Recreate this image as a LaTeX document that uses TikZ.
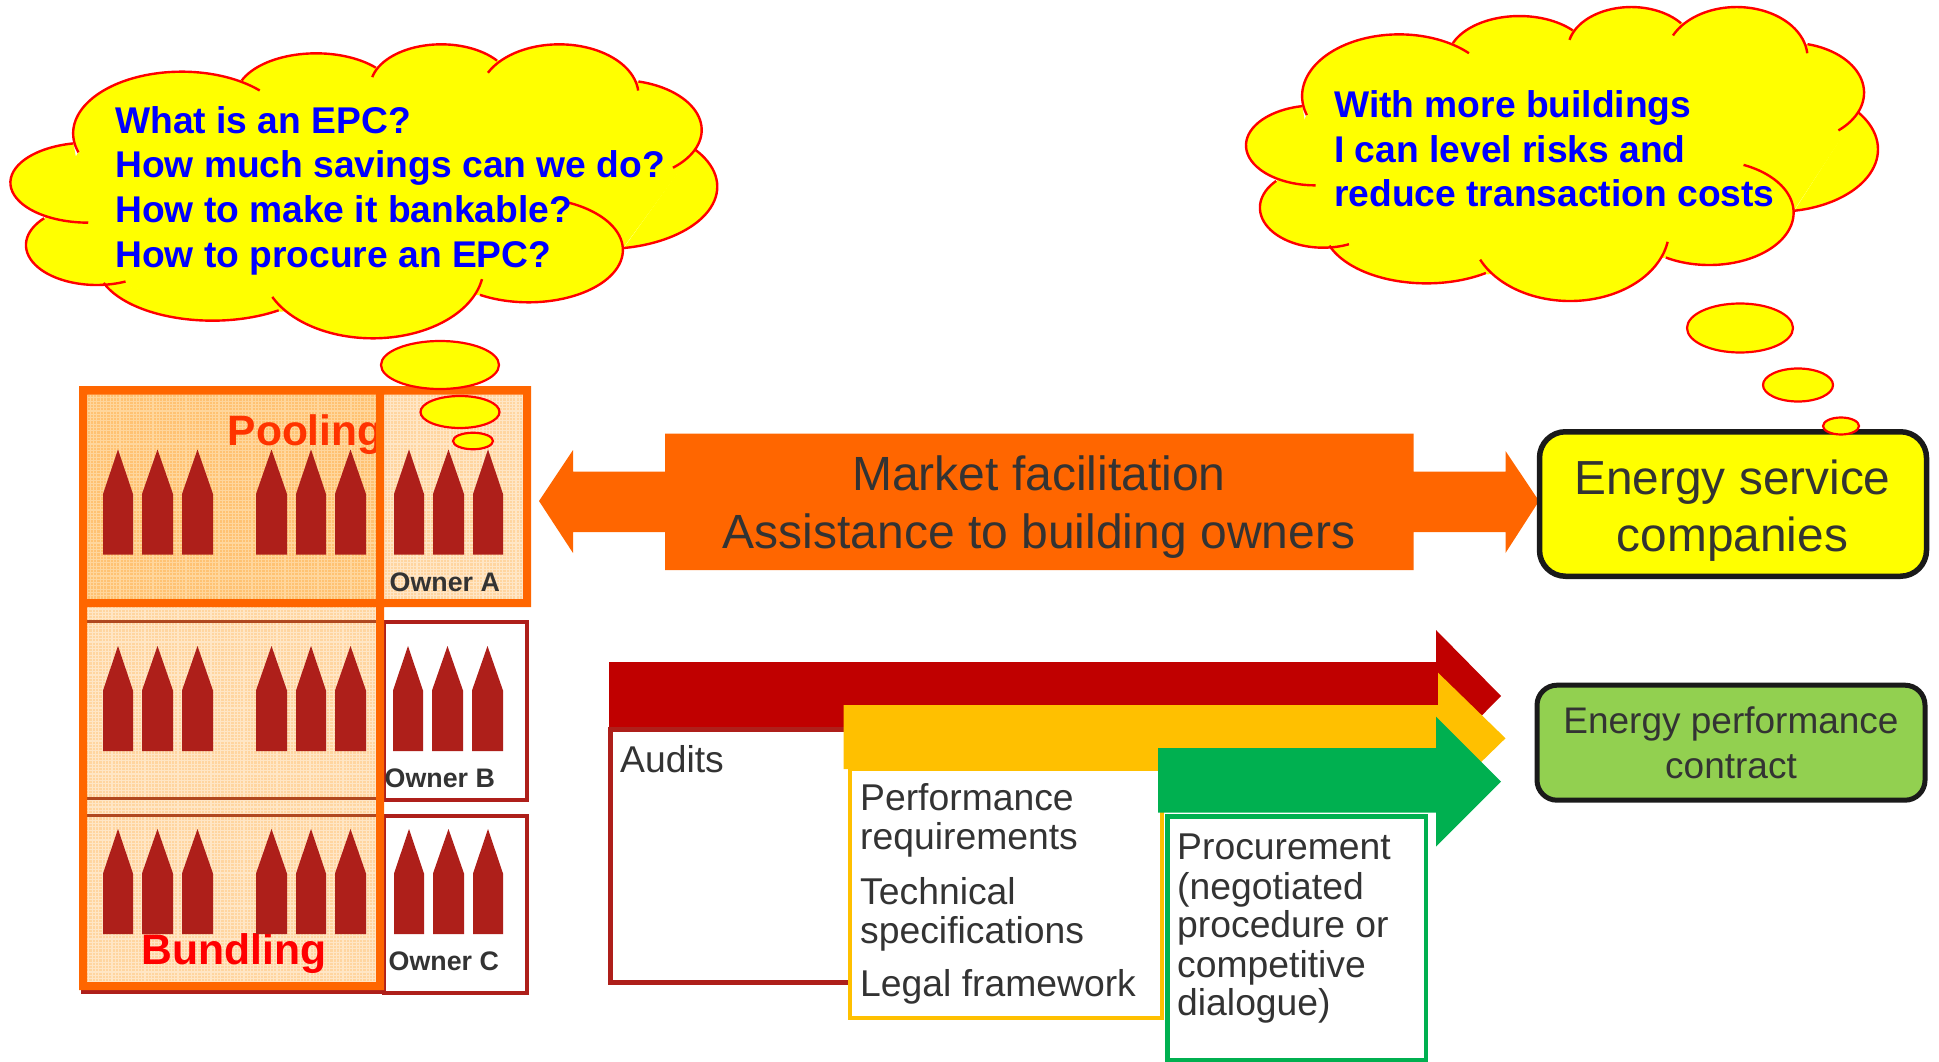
\documentclass[tikz,border=0pt]{standalone}
\usepackage{fontspec}
\setmainfont{Liberation Sans}
\definecolor{cloudfill}{HTML}{FFFF00}
\definecolor{cloudline}{HTML}{FF0000}
\definecolor{qblue}{HTML}{0000FF}
\definecolor{dark}{HTML}{333333}
\definecolor{boxline}{HTML}{1A1A1A}
\definecolor{frameorange}{HTML}{FF6600}
\definecolor{brick}{HTML}{AE1F1A}
\definecolor{brickdim}{HTML}{B04820}
\definecolor{arrowred}{HTML}{C00000}
\definecolor{arrowyellow}{HTML}{FFC000}
\definecolor{arrowgreen}{HTML}{00B050}
\definecolor{epcgreen}{HTML}{92D050}
\definecolor{palebase}{HTML}{FFD5A0}
\definecolor{paleline}{HTML}{FFE6C6}
\definecolor{warmbase}{HTML}{FFC272}
\definecolor{warmline}{HTML}{FFD69C}
\definecolor{poolred}{HTML}{FF3300}
\newcommand\fsz[1]{\fontsize{#1}{#1}\selectfont}
% one lobe of a cloud: style, centre x, centre y, x radius, y radius, from angle, to angle
\newcommand\lobe[7]{\path[#1] plot[smooth,samples=36,domain=#6:#7] ({#2+#4*cos(\x)},{#3+#5*sin(\x)});}
\newcommand\cloudlobes[1]{%
\lobe{#1}{385}{400}{230}{185}{162}{316}
\lobe{#1}{670}{290}{170}{130}{202}{318}
\lobe{#1}{935}{260}{150}{127}{193}{322}
\lobe{#1}{1185}{285}{168}{152}{206}{355}
\lobe{#1}{1310}{390}{177}{150}{284}{409}
\lobe{#1}{1280}{560}{240}{187}{-37}{80}
\lobe{#1}{1120}{750}{200}{157}{-66}{121}
\lobe{#1}{790}{800}{235}{215}{10}{155}
\lobe{#1}{450}{790}{245}{172}{55}{160}
\lobe{#1}{205}{735}{150}{120}{66}{222}
\lobe{#1}{187}{548}{165}{120}{90}{259}
}
\newcommand\cloudbody{%
\fill[cloudfill] (165,458)--(510,240)--(800,200)--(1058,180)--(1353,245)--(1475,445)--(1320,745)--(1015,885)--(595,935)--(220,850)--(95,655)--cycle;
\cloudlobes{fill=cloudfill}
\cloudlobes{draw=cloudline,line width=2.4pt}
}
\newcommand\bldg[5]{\fill[brick] (#1,#5)--(#1,#4)--({(#1+#2)/2},#3)--(#2,#4)--(#2,#5)--cycle;}
\newcommand\bldgrow[1]{%
\bldg{103}{133}{#1}{#1+44.5}{#1+105}\bldg{142}{173}{#1}{#1+44.5}{#1+105}\bldg{182}{213}{#1}{#1+44.5}{#1+105}%
\bldg{256}{287}{#1}{#1+44.5}{#1+105}\bldg{296}{326}{#1}{#1+44.5}{#1+105}\bldg{335}{366}{#1}{#1+44.5}{#1+105}%
}
\newcommand\texture[6]{\begin{scope}
\clip (#1,#2) rectangle (#3,#4);
\fill[#5] (#1,#2) rectangle (#3,#4);
\pgfmathtruncatemacro\nx{(#3-#1)/3.3}
\pgfmathtruncatemacro\ny{(#4-#2)/3.3}
\foreach \gi in {0,...,\nx} \draw[#6,line width=1.1pt] ({#1+\gi*3.3},#2)--({#1+\gi*3.3},#4);
\foreach \gi in {0,...,\ny} \draw[#6,line width=1.1pt] (#1,{#2+\gi*3.3})--(#3,{#2+\gi*3.3});
\end{scope}}
\usetikzlibrary{shapes.geometric}
\tikzset{
  bubble/.style={ellipse,draw=cloudline,fill=cloudfill,line width=2.2pt,inner sep=0pt},
  cloudtext/.style={anchor=base west,inner sep=0,text=qblue,font=\bfseries\fsz{37.2}},
  ownertext/.style={anchor=base west,inner sep=0,text=dark,font=\bfseries\fsz{26.8}},
  steptext/.style={anchor=base west,inner sep=0,text=dark,font=\fsz{37.3}},
  celltext/.style={anchor=base,inner sep=0,text=dark},
  ownercell/.style={draw=brick,fill=white,line width=4pt,minimum width=143pt,minimum height=177.5pt,inner sep=0,outer sep=0,anchor=north west},
  stepbox/.style={fill=white,line width=4.5pt,inner sep=0,outer sep=0,anchor=north west},
  roundbox/.style={draw=boxline,inner sep=0},
}
\begin{document}
\begin{tikzpicture}[x=1pt,y=-1pt]
\useasboundingbox (0,0) rectangle (1939,1062);
%% Left panel
\texture{79}{394.5}{384}{990}{palebase}{paleline}
\texture{87}{394.5}{376}{599}{warmbase}{warmline}
\texture{384}{394.5}{523}{599}{palebase}{paleline}
\node[ownercell] (cellB) at (384,622) {};
\node[ownercell] (cellC) at (384,815.5) {};
\draw[brickdim,line width=3pt] (87,621.5)--(376,621.5) (87,798)--(376,798) (87,815)--(376,815);
\draw[brick,line width=4pt] (81,992)--(384,992);
\begin{scope}
\clip (87,394) rectangle (376,599);
\node[anchor=base west,inner sep=0,text=poolred,font=\bfseries\fsz{42.5}] (pool) at (227.5,445.5) {Pooling};
\end{scope}
\node[anchor=base west,inner sep=0,text=red,font=\bfseries\fsz{42.7}] (bund) at (141,964) {Bundling};
\bldgrow{449.5}\bldgrow{646}\bldgrow{829}
\bldg{394}{424}{449.5}{494}{554.5}\bldg{433}{464}{449.5}{494}{554.5}\bldg{473}{503}{449.5}{494}{554.5}
\bldg{393}{423}{646}{690.5}{751}\bldg{432}{463}{646}{690.5}{751}\bldg{472}{503}{646}{690.5}{751}
\bldg{394}{424}{829}{873.5}{934}\bldg{433}{464}{829}{873.5}{934}\bldg{473}{503}{829}{873.5}{934}
\fill[frameorange] (79,386) rectangle (531,394.5) (79,599) rectangle (531,607) (523,386) rectangle (531,607)
  (79,386) rectangle (87,990) (376,386) rectangle (384,990) (79,982) rectangle (384,990);
\node[ownertext] (ownA) at (389.5,591) {Owner A};
\node[ownertext] (ownB) at (384.5,787.5) {Owner B};
\node[ownertext] (ownC) at (388.5,970) {Owner C};
%% Cloud 1
\begin{scope}[xscale=0.4719,yscale=0.33333]\cloudbody\end{scope}
\node[bubble,minimum width=118pt,minimum height=48pt] (b1a) at (440,365) {};
\node[bubble,minimum width=79pt,minimum height=32pt] (b1b) at (460,412) {};
\node[bubble,minimum width=40pt,minimum height=16.5pt] (b1c) at (473,441) {};
\node[cloudtext] (q1) at (115,133.5) {What is an EPC?};
\node[cloudtext] (q2) at (115,177.5) {How much savings can we do?};
\node[cloudtext] (q3) at (115,222.5) {How to make it bankable?};
\node[cloudtext] (q4) at (115,267) {How to procure an EPC?};
%% Cloud 2
\begin{scope}[shift={(1236.7,-37.3)},xscale=0.4219,yscale=0.33333]\cloudbody\end{scope}
\node[bubble,minimum width=106pt,minimum height=49pt] (b2a) at (1740,328) {};
\node[bubble,minimum width=70pt,minimum height=33pt] (b2b) at (1798,385) {};
%% Double arrow
\fill[frameorange] (539,501)--(573,450)--(573,471.5)--(665,471.5)--(665,433.5)--(1413.5,433.5)--(1413.5,471.5)--(1505.5,471.5)--(1505.5,451)--(1539,501)--(1505.5,553)--(1505.5,532)--(1413.5,532)--(1413.5,570)--(665,570)--(665,532)--(573,532)--(573,553)--cycle;
\node[celltext,font=\fsz{48}] (mf1) at (1039,490) {Market facilitation};
\node[celltext,font=\fsz{48}] (mf2) at (1039,548) {Assistance to building owners};
%% ESCO box
\node[roundbox,fill=cloudfill,line width=5.5pt,rounded corners=26pt,minimum width=387pt,minimum height=144.5pt] (esco) at (1733,504) {};
\node[celltext,font=\fsz{47.8}] (e1) at (1732.5,494) {Energy service};
\node[celltext,font=\fsz{47.8}] (e2) at (1732.5,551.5) {companies};
\node[bubble,minimum width=36pt,minimum height=17pt] (b2c) at (1841,426) {};
%% EPC box
\node[roundbox,fill=epcgreen,line width=5pt,rounded corners=20pt,minimum width=388pt,minimum height=115pt] (epc) at (1731,742.7) {};
\node[celltext,font=\fsz{37}] (c1) at (1731,733.5) {Energy performance};
\node[celltext,font=\fsz{37}] (c2) at (1731,778) {contract};
%% Process arrows
\fill[arrowred] (609,662)--(1436,662)--(1436,630)--(1501,696)--(1436,762)--(1436,730)--(609,730)--cycle;
\node[stepbox,draw=brick,minimum width=240pt,minimum height=253pt] (audbox) at (610.5,729.5) {};
\fill[arrowyellow] (843.6,705)--(1438,705)--(1438,672.7)--(1505.5,738.3)--(1438,804)--(1438,769)--(843.6,769)--cycle;
\node[stepbox,draw=arrowyellow,minimum width=312pt,minimum height=249pt] (perfbox) at (850,769) {};
\fill[arrowgreen] (1158,748)--(1436,748)--(1436,716.7)--(1501,781.7)--(1436,846.7)--(1436,812.7)--(1158,812.7)--cycle;
\node[stepbox,draw=arrowgreen,minimum width=258.5pt,minimum height=243.5pt] (procbox) at (1167.5,816.7) {};
\node[steptext] (t1) at (620,772.5) {Audits};
\node[steptext] (t2) at (860,810) {Performance};
\node[steptext] (t3) at (860,849) {requirements};
\node[steptext] (t4) at (860,904.5) {Technical};
\node[steptext] (t5) at (860,943) {specifications};
\node[steptext] (t6) at (860,996.5) {Legal framework};
\node[steptext] (t7) at (1177,859.5) {Procurement};
\node[steptext] (t8) at (1177,899) {(negotiated};
\node[steptext] (t9) at (1177,937.5) {procedure or};
\node[steptext] (t10) at (1177,977.5) {competitive};
\node[steptext] (t11) at (1177,1015.5) {dialogue)};
%% Cloud 2 text
\node[cloudtext] (r1) at (1334,117.5) {With more buildings};
\node[cloudtext] (r2) at (1334,162.5) {I can level risks and};
\node[cloudtext] (r3) at (1334,206.5) {reduce transaction costs};
\end{tikzpicture}
\end{document}
